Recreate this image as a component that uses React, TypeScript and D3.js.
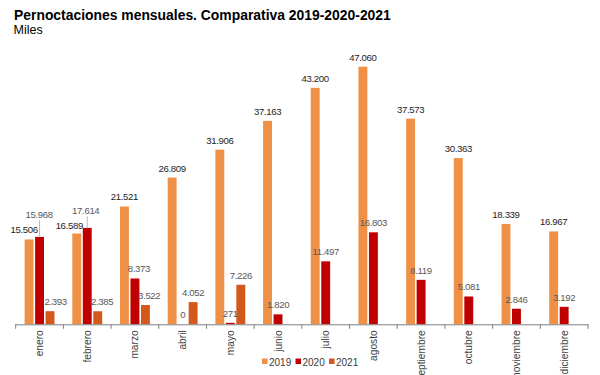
import React from "react";
import * as d3 from "d3";

const months = ["enero", "febrero", "marzo", "abril", "mayo", "junio", "julio", "agosto", "septiembre", "octubre", "noviembre", "diciembre"];
const seriesNames = ["2019", "2020", "2021"];
const values2019 = [15506, 16589, 21521, 26809, 31906, 37163, 43200, 47060, 37573, 30363, 18339, 16967];
const values2020 = [15968, 17614, 8373, 0, 271, 1820, 11497, 16803, 8119, 5081, 2846, 3192];
const values2021: (number | null)[] = [2393, 2385, 3522, 4052, 7226, null, null, null, null, null, null, null];

const colors: Record<string, string> = { "2019": "#EE9147", "2020": "#C00000", "2021": "#D4581C" };
const labelColors: Record<string, string> = { "2019": "#1e1e1e", "2020": "#595959", "2021": "#595959" };

// label nudges (layout only): key "series-monthIndex" -> [dx, extra dy, leader]
const nudges: Record<string, [number, number, boolean]> = {
  "2019-0": [-5, 0, false],
  "2019-1": [-7.5, 1.5, false],
  "2020-0": [-0.5, -13, true],
  "2020-1": [-1.5, -8, true],
  "2021-0": [5.5, 0, false],
  "2021-1": [4.3, 0, false],
  "2020-2": [4, 0, false],
  "2021-2": [3.8, 0, false],
};

const fmt = (v: number) => d3.format(",")(v).replace(/,/g, ".");

export default function App() {
  const W = 600, H = 375;
  const baseY = 324.3;
  const x = d3.scaleBand<string>().domain(months).range([15.7, 588]).paddingInner(0).paddingOuter(0);
  const xs = d3.scaleBand<string>().domain(seriesNames).range([8.9, 38.8]).paddingInner(0.15).paddingOuter(0);
  const y = d3.scaleLinear().domain([0, 50000]).range([baseY, 50.6]);
  const data: Record<string, (number | null)[]> = { "2019": values2019, "2020": values2020, "2021": values2021 };
  const font = "'Liberation Sans', Arial, sans-serif";

  const ticks = months.map((m) => x(m)!).concat([x(months[months.length - 1])! + x.step()]);

  return (
    <svg width={W} height={H} style={{ position: "absolute", left: 0, top: 0, background: "#fff" }} fontFamily={font}>
      <rect width={W} height={H} fill="#fff" />
      <text x={14} y={19.5} fontSize={13.9} fontWeight="bold" fill="#000">Pernoctaciones mensuales. Comparativa 2019-2020-2021</text>
      <text x={13.5} y={34} fontSize={12.5} fill="#000">Miles</text>

      {seriesNames.map((s) =>
        months.map((m, i) => {
          const v = data[s][i];
          if (v === null || v === undefined) return null;
          const bx = x(m)! + xs(s)!;
          const by = y(v);
          return <rect key={s + m} x={bx} y={by} width={xs.bandwidth()} height={baseY - by} fill={colors[s]} />;
        })
      )}

      <line x1={15.2} x2={588.5} y1={baseY + 0.5} y2={baseY + 0.5} stroke="#7f7f7f" strokeWidth={1} />
      {ticks.map((t, i) => (
        <line key={i} x1={t} x2={t} y1={baseY} y2={baseY + 4.5} stroke="#7f7f7f" strokeWidth={1} />
      ))}

      {seriesNames.map((s) =>
        months.map((m, i) => {
          const v = data[s][i];
          if (v === null || v === undefined) return null;
          const cx = x(m)! + xs(s)! + xs.bandwidth() / 2;
          const top = y(v);
          const n = nudges[`${s}-${i}`] || [0, 0, false];
          const ly = top - 6 + n[1];
          return (
            <g key={"l" + s + m}>
              {n[2] && <line x1={cx} x2={cx} y1={ly + 2.5} y2={top - 0.5} stroke="#a6a6a6" strokeWidth={0.8} />}
              <text x={cx + n[0]} y={ly} fontSize={9.6} textAnchor="middle" fill={labelColors[s]} letterSpacing={-0.35}>{fmt(v)}</text>
            </g>
          );
        })
      )}

      {months.map((m) => {
        const cx = x(m)! + x.bandwidth() / 2;
        return (
          <text key={"m" + m} transform={`translate(${cx + 3.5},${baseY + 6}) rotate(-90)`} fontSize={10.2} textAnchor="end" fill="#404040">{m}</text>
        );
      })}

      {seriesNames.map((s, i) => {
        const lx = 262 + i * 33.5;
        return (
          <g key={"lg" + s}>
            <rect x={lx} y={358.5} width={5.5} height={5.5} fill={colors[s]} />
            <text x={lx + 7} y={365.5} fontSize={10} fill="#404040">{s}</text>
          </g>
        );
      })}
    </svg>
  );
}
